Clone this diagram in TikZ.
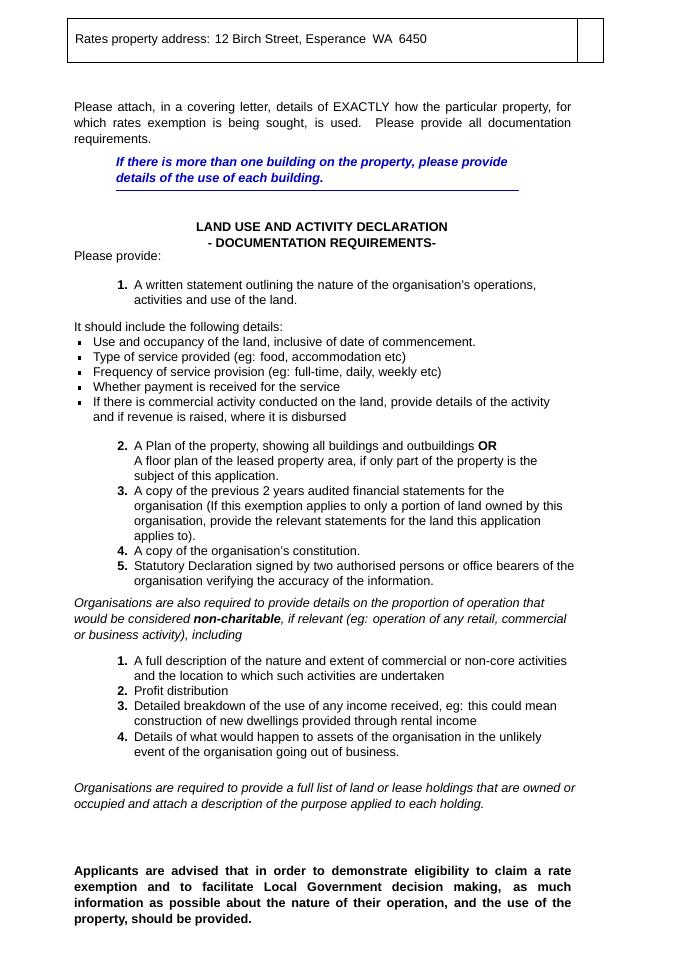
\documentclass[tikz,border=0pt]{standalone}
\usepackage{fontspec}
\setmainfont{Liberation Sans}
\begin{document}
\begin{tikzpicture}[x=0.75pt,y=-0.75pt,
  every node/.style={inner sep=0pt,outer sep=0pt,font=\fontsize{9.5}{11.3}\selectfont},
  tl/.style={anchor=base west},
  par/.style={anchor=north west,text width=#1,align=justify},
  num/.style={anchor=base east,font=\fontsize{9.5}{11.3}\selectfont\bfseries}]
\useasboundingbox (0,0) rectangle (675,955);
\fill[white] (0,0) rectangle (675,955);
% top box
\draw[line width=0.6pt] (67,18) rectangle (603,62);
\draw[line width=0.6pt] (577,18) -- (577,62);
\node[tl] (addr) at (75,44) {Rates property address: 12 Birch Street, Esperance\enspace WA\enspace 6450};
% para 1
\node[par=373pt,font=\fontsize{9.5}{12}\selectfont] (p1) at (74,102) {Please attach, in a covering letter, details of EXACTLY how the particular property, for\linebreak which rates exemption is being sought, is used. Please provide all documentation\linebreak requirements.};
% blue
\node[tl,text=blue!75!black,font=\fontsize{9.5}{11.3}\selectfont\bfseries\itshape] (b1) at (116,167) {If there is more than one building on the property, please provide};
\node[tl,text=blue!75!black,font=\fontsize{9.5}{11.3}\selectfont\bfseries\itshape] (b2) at (116,183) {details of the use of each building.};
\draw[blue!60!black,line width=0.5pt] (116,190) -- (519,190);
% heading
\node[anchor=base,font=\fontsize{9.5}{11.3}\selectfont\bfseries] (h1) at (322,232) {LAND USE AND ACTIVITY DECLARATION};
\node[anchor=base,font=\fontsize{9.5}{11.3}\selectfont\bfseries] (h2) at (322,248) {- DOCUMENTATION REQUIREMENTS-};
\node[tl] (pp) at (74,261) {Please provide:};
\node[num] (n1) at (128,290) {1.};
\node[tl] (t1a) at (134,290) {A written statement outlining the nature of the organisation's operations,};
\node[tl] (t1b) at (134,305) {activities and use of the land.};
\node[tl] (inc) at (74,331) {It should include the following details:};
\foreach \y/\t in {346/{Use and occupancy of the land, inclusive of date of commencement.},
  361/{Type of service provided (eg: food, accommodation etc)},
  376/{Frequency of service provision (eg: full-time, daily, weekly etc)},
  391/{Whether payment is received for the service},
  406/{If there is commercial activity conducted on the land, provide details of the activity}}{
  \fill (77.5,\y-5) rectangle +(3.5,3.5);
  \node[tl] at (93,\y) {\t};}
\node[tl] (b6) at (93,421) {and if revenue is raised, where it is disbursed};
% list 2-5
\node[num] at (128,450) {2.};
\node[tl] at (134,450) {A Plan of the property, showing all buildings and outbuildings \textbf{OR}};
\node[tl] at (134,465) {A floor plan of the leased property area, if only part of the property is the};
\node[tl] at (134,480) {subject of this application.};
\node[num] at (128,495) {3.};
\node[tl] at (134,495) {A copy of the previous 2 years audited financial statements for the};
\node[tl] at (134,510) {organisation (If this exemption applies to only a portion of land owned by this};
\node[tl] at (134,525) {organisation, provide the relevant statements for the land this application};
\node[tl] at (134,540) {applies to).};
\node[num] at (128,555) {4.};
\node[tl] at (134,555) {A copy of the organisation's constitution.};
\node[num] at (128,570) {5.};
\node[tl] at (134,570) {Statutory Declaration signed by two authorised persons or office bearers of the};
\node[tl] at (134,585) {organisation verifying the accuracy of the information.};
% italic para
\node[tl,font=\fontsize{9.5}{11.3}\selectfont\itshape] at (74,607) {Organisations are also required to provide details on the proportion of operation that};
\node[tl,font=\fontsize{9.5}{11.3}\selectfont\itshape] at (74,623) {would be considered \textbf{non-charitable}, if relevant (eg: operation of any retail, commercial};
\node[tl,font=\fontsize{9.5}{11.3}\selectfont\itshape] at (74,639) {or business activity), including};
\node[num] at (128,665) {1.};
\node[tl] at (134,665) {A full description of the nature and extent of commercial or non-core activities};
\node[tl] at (134,680) {and the location to which such activities are undertaken};
\node[num] at (128,695) {2.};
\node[tl] at (134,695) {Profit distribution};
\node[num] at (128,710) {3.};
\node[tl] at (134,710) {Detailed breakdown of the use of any income received, eg: this could mean};
\node[tl] at (134,725) {construction of new dwellings provided through rental income};
\node[num] at (128,741) {4.};
\node[tl] at (134,741) {Details of what would happen to assets of the organisation in the unlikely};
\node[tl] at (134,756) {event of the organisation going out of business.};
\node[tl,font=\fontsize{9.5}{11.3}\selectfont\itshape] at (74,792) {Organisations are required to provide a full list of land or lease holdings that are owned or};
\node[tl,font=\fontsize{9.5}{11.3}\selectfont\itshape] at (74,808) {occupied and attach a description of the purpose applied to each holding.};
% bold para
\node[par=373pt,font=\fontsize{9.5}{12}\selectfont\bfseries] (last) at (74,866) {Applicants are advised that in order to demonstrate eligibility to claim a rate\linebreak exemption and to facilitate Local Government decision making, as much\linebreak information as possible about the nature of their operation, and the use of the\linebreak property, should be provided.};
\end{tikzpicture}
\end{document}
